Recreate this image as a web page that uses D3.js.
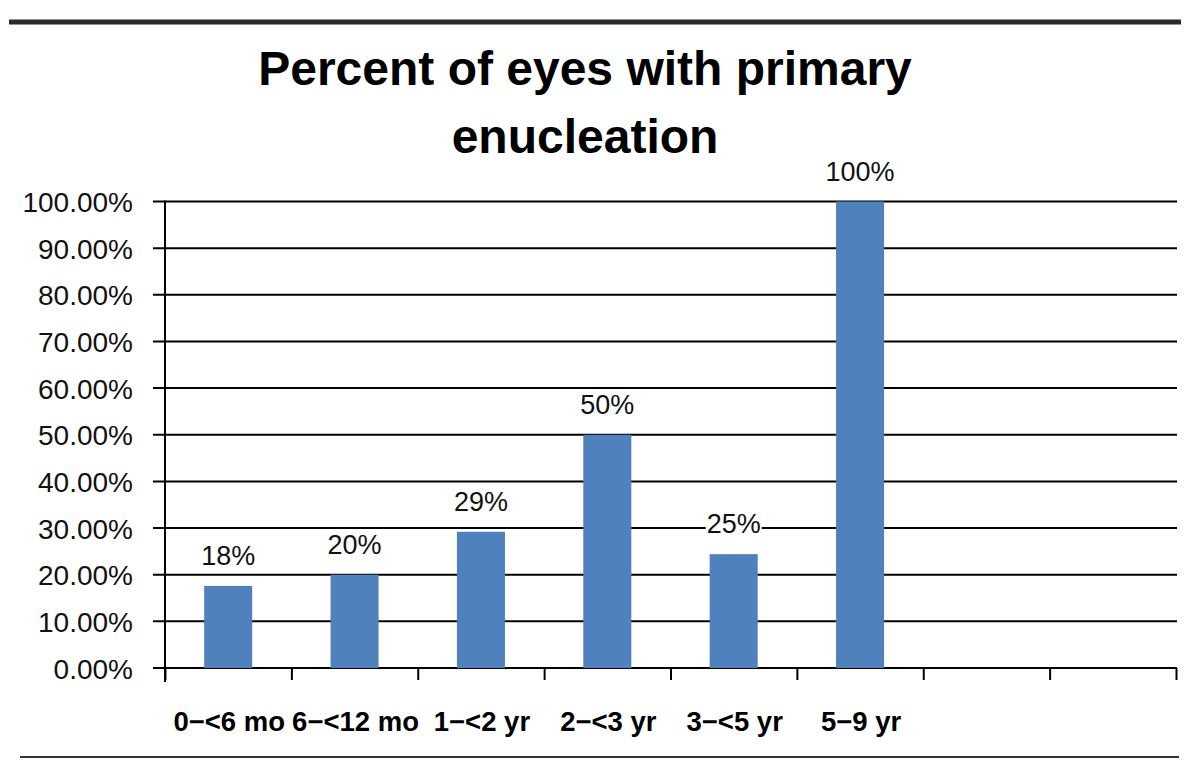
<!DOCTYPE html>
<html>
<head>
<meta charset="utf-8">
<script src="https://cdn.jsdelivr.net/npm/d3@7"></script>
<style>
body { margin: 0; background: #fff; }
text { font-family: "Liberation Sans", Arial, sans-serif; }
</style>
</head>
<body>
<div id="chart"></div>
<script>
'use strict';

// data
var categories = ["0\u2212<6 mo", "6\u2212<12 mo", "1\u2212<2 yr", "2\u2212<3 yr", "3\u2212<5 yr", "5\u22129 yr"];
var values = [17.6, 20, 29.2, 50, 24.4, 100];
var valueLabels = ["18%", "20%", "29%", "50%", "25%", "100%"];
var yTicks = [0, 10, 20, 30, 40, 50, 60, 70, 80, 90, 100];
var titleLines = ["Percent of eyes with primary", "enucleation"];
var slotCount = 8; // the axis has two empty category slots on the right

var myChart = {};
myChart.width = 1200;
myChart.height = 780;
myChart.left = 165;
myChart.right = 1176;
myChart.top = 201.5;
myChart.bottom = 668;
myChart.barColor = "#4F81BD";

myChart.appendSVG = function(div){
    var svg = d3.select(div).append("svg")
                .attr("width", myChart.width)
                .attr("height", myChart.height);
    return svg;
};

myChart.createScales = function(){
    myChart.yScale = d3.scaleLinear()
                        .domain([0, 100])
                        .range([myChart.bottom, myChart.top]);
    myChart.xBand = d3.scaleBand()
                        .domain(d3.range(slotCount))
                        .range([myChart.left, myChart.right])
                        .paddingInner(0.62)
                        .paddingOuter(0.31);
    myChart.xSlots = d3.scaleLinear()
                        .domain([0, slotCount])
                        .range([myChart.left, myChart.right]);
};

myChart.createFrame = function(svg){
    // heavy rule on top, thin rule at the bottom
    svg.append("rect")
        .attr("x", 9).attr("y", 19.5)
        .attr("width", 1172).attr("height", 5)
        .style("fill", "#2a2a2a");
    svg.append("rect")
        .attr("x", 20).attr("y", 756)
        .attr("width", 1159).attr("height", 2)
        .style("fill", "#333");

    svg.selectAll(".title")
        .data(titleLines)
        .enter()
            .append("text")
            .classed("title", true)
            .attr("x", 585)
            .attr("y", function(d, i){ return 85 + i * 68; })
            .attr("text-anchor", "middle")
            .style("font-size", "48px")
            .style("font-weight", "bold")
            .style("fill", "#000")
            .text(function(d){ return d; });
};

myChart.createGrid = function(svg){
    var y = myChart.yScale;
    svg.selectAll(".grid")
        .data(yTicks)
        .enter()
            .append("line")
            .classed("grid", true)
            .attr("x1", myChart.left - 12)
            .attr("x2", myChart.right + 1)
            .attr("y1", function(d){ return y(d); })
            .attr("y2", function(d){ return y(d); })
            .style("stroke", "#000")
            .style("stroke-width", 2);

    var yAxis = d3.axisLeft(y)
                    .tickValues(yTicks)
                    .tickSize(0)
                    .tickPadding(32)
                    .tickFormat(function(d){ return d3.format(".2f")(d) + "%"; });
    var gy = svg.append("g")
                .attr("transform", "translate(" + myChart.left + ",0)")
                .call(yAxis);
    gy.select(".domain").remove();
    gy.selectAll("text")
        .attr("dy", "0.36em")
        .style("font-family", "'Liberation Sans', Arial, sans-serif")
        .style("font-size", "28px")
        .style("fill", "#111");

    // vertical axis line
    svg.append("line")
        .attr("x1", myChart.left).attr("x2", myChart.left)
        .attr("y1", y(100) - 1).attr("y2", myChart.bottom + 14)
        .style("stroke", "#000")
        .style("stroke-width", 2);

    // slot boundary ticks
    var xAxis = d3.axisBottom(myChart.xSlots)
                    .tickValues(d3.range(slotCount + 1))
                    .tickSize(12)
                    .tickSizeOuter(0)
                    .tickFormat("");
    var gx = svg.append("g")
                .attr("transform", "translate(0," + myChart.bottom + ")")
                .call(xAxis);
    gx.select(".domain").remove();
    gx.selectAll("line")
        .style("stroke", "#000")
        .style("stroke-width", 2);
};

myChart.createBars = function(svg){
    var x = myChart.xBand;
    var y = myChart.yScale;
    svg.selectAll(".bar")
        .data(values)
        .enter()
            .append("rect")
            .classed("bar", true)
            .attr("x", function(d, i){ return x(i); })
            .attr("y", function(d){ return y(d); })
            .attr("width", x.bandwidth())
            .attr("height", function(d){ return y(0) - y(d); })
            .style("fill", myChart.barColor);
};

myChart.createLabels = function(svg){
    var x = myChart.xBand;
    var y = myChart.yScale;
    var groups = svg.selectAll(".bar-label")
        .data(values)
        .enter()
            .append("g")
            .classed("bar-label", true);

    var texts = groups.append("text")
        .attr("x", function(d, i){ return x(i) + x.bandwidth() / 2; })
        .attr("y", function(d){ return y(d) - 21; })
        .attr("text-anchor", "middle")
        .style("font-size", "27px")
        .style("fill", "#111")
        .text(function(d, i){ return valueLabels[i]; });

    // labels sit on a white box, as in the original
    texts.each(function(){
        var b = this.getBBox();
        d3.select(this.parentNode).insert("rect", "text")
            .attr("x", b.x - 1).attr("y", b.y + 4)
            .attr("width", b.width + 2).attr("height", b.height - 4)
            .style("fill", "#fff");
    });

    svg.selectAll(".cat-label")
        .data(categories)
        .enter()
            .append("text")
            .classed("cat-label", true)
            .attr("x", function(d, i){ return x(i) + x.bandwidth() / 2 + 1; })
            .attr("y", 731)
            .attr("text-anchor", "middle")
            .style("font-size", "27.5px")
            .style("font-weight", "bold")
            .style("fill", "#000")
            .text(function(d){ return d; });
};

myChart.run = function(){
    var svg = myChart.appendSVG("#chart");
    myChart.createScales();
    myChart.createFrame(svg);
    myChart.createGrid(svg);
    myChart.createBars(svg);
    myChart.createLabels(svg);
};

window.onload = myChart.run;
</script>
</body>
</html>
